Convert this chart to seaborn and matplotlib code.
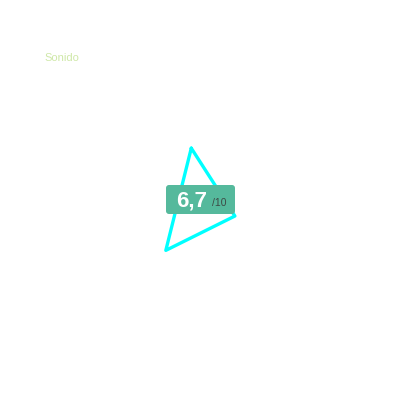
import numpy as np
import pandas as pd
import matplotlib
matplotlib.use("Agg")
import matplotlib.pyplot as plt
from matplotlib.patches import FancyBboxPatch
import seaborn as sns

categories = ["Imagen", "Diseño", "Sonido"]
values = [8.4, 3.8, 7.9]
score_label = "6,7"
score_max = "/10"
title_label = "Sonido"

sns.set_theme(style="white")
plt.rcParams['font.family'] = ['Liberation Sans', 'DejaVu Sans']

W = H = 400
fig = plt.figure(figsize=(4, 4), dpi=100)
fig.patch.set_facecolor("white")

cx, cy = 207.5, 208.7  # pixel center (from top-left)
R = 74.6
ax = fig.add_axes([(cx - R) / W, 1 - (cy + R) / H, 2 * R / W, 2 * R / H], polar=True)
ax.set_theta_offset(np.radians(105))
ax.set_theta_direction(-1)

n = len(categories)
angles = np.arange(n) * 2 * np.pi / n
df = pd.DataFrame({
    "theta": np.append(angles, angles[0]),
    "r": np.append(values, values[0]),
})
sns.lineplot(data=df, x="theta", y="r", sort=False, ax=ax, color="#00ffff",
             linewidth=2.4, estimator=None)
ax.set_ylim(0, 10)
ax.grid(False)
ax.set_xticks([])
ax.set_yticks([])
ax.set_xlabel("")
ax.set_ylabel("")
ax.spines["polar"].set_visible(False)
ax.set_facecolor("none")

# title label
fig.text(44 / W, 1 - 58 / H, title_label, ha="left", va="center",
         fontsize=8, color="#cfe8a8")

# badge
bx0, bx1, by0, by1 = 166, 235, 185, 214
badge = FancyBboxPatch(((bx0 + 3) / W, 1 - (by1 - 3) / H), (bx1 - bx0 - 6) / W, (by1 - by0 - 6) / H,
                       boxstyle="round,pad=0.0075", transform=fig.transFigure,
                       facecolor="#55b99c", edgecolor="none", zorder=5)
fig.patches.append(badge)
fig.text(192 / W, 1 - 201 / H, score_label, ha="center", va="center",
         fontsize=16, fontweight="bold", color="white", zorder=6)
fig.text(219 / W, 1 - 203 / H, score_max, ha="center", va="center",
         fontsize=7.5, color="#3d4a45", zorder=6)

fig.savefig("out.png", dpi=100, facecolor="white")
